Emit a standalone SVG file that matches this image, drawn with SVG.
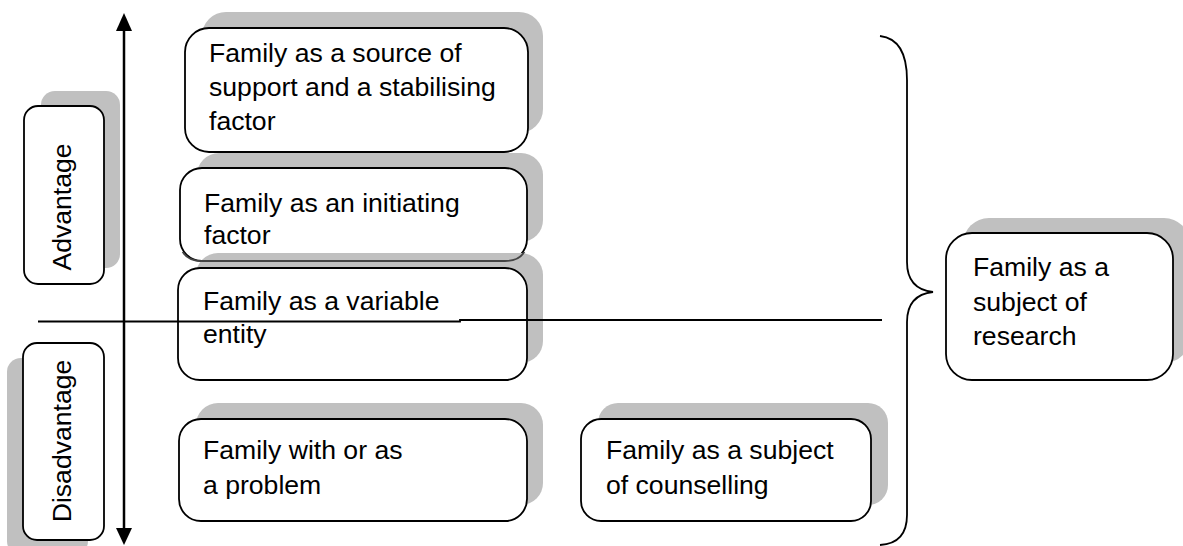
<svg xmlns="http://www.w3.org/2000/svg" width="1183" height="546" viewBox="0 0 1183 546">
<style>
.sh{fill:#c0c0c0;stroke:none}
.bx{fill:#ffffff;stroke:#000000;stroke-width:1.8}
.t{font-family:"Liberation Sans",Arial,sans-serif;font-size:26.6px;fill:#000000}
.ln{fill:none;stroke:#000000;stroke-width:1.8}
</style>
<defs><clipPath id="c2"><rect x="170" y="252" width="380" height="12"/></clipPath></defs>
<rect width="1183" height="546" fill="#ffffff"/>
<g id="advantage">
<rect class="sh" x="41" y="91" width="79" height="177" rx="14"/>
<rect class="bx" x="24" y="106" width="80" height="178" rx="14"/>
<text class="t" text-anchor="middle" transform="translate(71,207) rotate(-90)">Advantage</text>
</g>
<g id="disadvantage">
<rect class="sh" x="7" y="358" width="81" height="197" rx="14"/>
<rect class="bx" x="23" y="343" width="81" height="197" rx="14"/>
<text class="t" text-anchor="middle" transform="translate(71,441) rotate(-90)">Disadvantage</text>
</g>
<g id="support">
<rect class="sh" x="202" y="12" width="341" height="121" rx="24"/>
<rect class="bx" x="185" y="28" width="343" height="124" rx="24"/>
<text class="t" x="209" y="62">Family as a source of</text>
<text class="t" x="209" y="96">support and a stabilising</text>
<text class="t" x="209" y="130">factor</text>
</g>
<g id="initiating">
<rect class="sh" x="197" y="153" width="346" height="89" rx="22"/>
<rect class="bx" x="180" y="168" width="347" height="93" rx="22"/>
<text class="t" x="204" y="212">Family as an initiating</text>
<text class="t" x="204" y="244">factor</text>
</g>
<g id="variable">
<rect class="sh" x="196" y="253" width="347" height="110" rx="22"/>
<path d="M180,240 L180,239 Q180,261 202,261 L505,261 Q527,261 527,239" fill="none" stroke="#444" stroke-width="1.8" clip-path="url(#c2)"/>
<rect class="bx" x="178" y="268" width="349" height="112" rx="22"/>
<text class="t" x="203" y="310">Family as a variable</text>
<text class="t" x="203" y="343">entity</text>
</g>
<g id="problem">
<rect class="sh" x="196" y="403" width="347" height="102" rx="22"/>
<rect class="bx" x="179" y="419" width="348" height="102" rx="22"/>
<text class="t" x="203" y="459">Family with or as</text>
<text class="t" x="203" y="494">a problem</text>
</g>
<g id="counselling">
<rect class="sh" x="598" y="403" width="290" height="102" rx="20"/>
<rect class="bx" x="581" y="419" width="290" height="102" rx="20"/>
<text class="t" x="606" y="459">Family as a subject</text>
<text class="t" x="606" y="494">of counselling</text>
</g>
<g id="research">
<rect class="sh" x="963" y="218" width="227" height="145" rx="26"/>
<rect class="bx" x="946" y="233" width="227" height="147" rx="26"/>
<text class="t" x="973" y="276">Family as a</text>
<text class="t" x="973" y="311">subject of</text>
<text class="t" x="973" y="345">research</text>
</g>
<g id="connectors">
<line x1="124" y1="28" x2="124" y2="531" stroke="#000" stroke-width="2.5"/>
<polygon points="124,13 116,31 132,31" fill="#000"/>
<polygon points="124,545 116,528 132,528" fill="#000"/>
<path class="ln" d="M38,321.5 H460 V320 H882"/>
<path class="ln" d="M880,36 C897,38 907,52 907,80 L907,262 C907,280 915,290 933,292 C915,294 907,304 907,322 L907,515 C907,535 897,544 880,545"/>
</g>
</svg>
